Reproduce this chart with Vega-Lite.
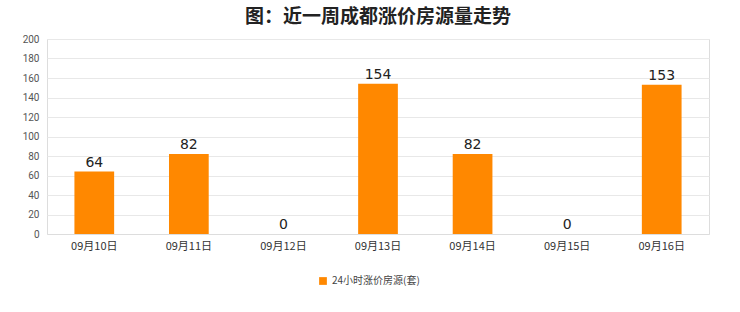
{
  "$schema": "https://vega.github.io/schema/vega-lite/v6.json",
  "autosize": "none",
  "width": 662,
  "height": 195,
  "padding": {"left": 47, "top": 39, "right": 31, "bottom": 78},
  "background": "#ffffff",
  "title": {"text": "图：近一周成都涨价房源量走势", "font": "Noto Sans CJK SC", "fontSize": 19, "fontWeight": "bold", "color": "#222222", "anchor": "middle", "offset": 7},
  "config": {"view": {"stroke": "#dddddd"}},
  "data": {"values": [
    {"date": "09月10日", "value": 64, "series": "24小时涨价房源(套)"},
    {"date": "09月11日", "value": 82, "series": "24小时涨价房源(套)"},
    {"date": "09月12日", "value": 0, "series": "24小时涨价房源(套)"},
    {"date": "09月13日", "value": 154, "series": "24小时涨价房源(套)"},
    {"date": "09月14日", "value": 82, "series": "24小时涨价房源(套)"},
    {"date": "09月15日", "value": 0, "series": "24小时涨价房源(套)"},
    {"date": "09月16日", "value": 153, "series": "24小时涨价房源(套)"}
  ]},
  "encoding": {
    "x": {"field": "date", "type": "nominal", "sort": null, "scale": {"paddingInner": 0.58, "paddingOuter": 0.29},
      "axis": {"title": null, "labelAngle": 0, "labelFont": "Noto Sans CJK SC", "labelFontSize": 11, "labelColor": "#333333", "domainColor": "#dddddd", "ticks": false, "labelPadding": 6}},
    "y": {"field": "value", "type": "quantitative", "scale": {"domain": [0, 200]},
      "axis": {"title": null, "values": [0,20,40,60,80,100,120,140,160,180,200], "labelFont": "Roboto", "labelFontSize": 10, "labelColor": "#555555", "gridColor": "#e8e8e8", "domain": false, "ticks": false, "labelPadding": 8}}
  },
  "layer": [
    {"mark": {"type": "bar", "color": "#ff8800"},
      "encoding": {"color": {"field": "series", "type": "nominal", "scale": {"range": ["#ff8800"]},
        "legend": {"title": null, "orient": "none", "legendX": 271, "legendY": 237, "direction": "horizontal", "symbolType": "square", "symbolSize": 60, "labelFont": "Noto Sans CJK SC", "labelFontSize": 10, "labelColor": "#444444"}}}},
    {"mark": {"type": "text", "dy": -9, "fontSize": 14, "font": "DejaVu Sans", "color": "#222222"},
      "encoding": {"text": {"field": "value", "type": "quantitative"}}}
  ]
}
